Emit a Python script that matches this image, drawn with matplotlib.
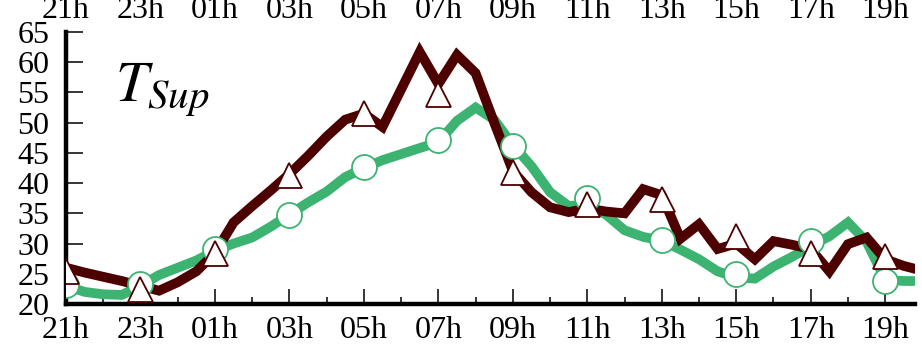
import matplotlib
matplotlib.use("Agg")
import matplotlib.pyplot as plt
from matplotlib.ticker import MultipleLocator, FixedLocator
import numpy as np

plt.rcParams["font.family"] = ["Liberation Serif", "DejaVu Serif"]
plt.rcParams["mathtext.fontset"] = "stix"

# half-hourly series, hours counted from 21h
hours = np.arange(0, 23.5, 0.5)
t_measured = [26.0, 25.2, 24.5, 23.8, 23.0, 22.2, 23.6, 25.4, 28.4, 33.5,
              36.2, 38.8, 41.5, 44.5, 47.7, 50.5, 51.5, 49.3, 55.5, 61.7,
              56.4, 61.2, 58.2, 50.0, 42.0, 38.5, 36.0, 35.2, 35.8, 35.3,
              35.0, 39.0, 38.0, 30.8, 33.2, 29.1, 30.0, 27.4, 30.4, 29.8,
              29.1, 25.4, 29.9, 31.0, 27.4, 26.3, 25.5]
t_model = [23.0, 22.0, 21.6, 21.5, 23.0, 24.8, 26.0, 27.2, 28.8, 30.0,
           31.0, 32.8, 34.8, 36.8, 38.6, 41.0, 42.5, 43.8, 44.8, 45.8,
           46.8, 50.3, 52.5, 50.5, 46.3, 42.8, 38.5, 36.2, 36.5, 34.8,
           32.2, 31.1, 30.5, 29.0, 27.4, 25.4, 24.4, 24.2, 26.2, 27.8,
           29.6, 31.2, 33.5, 30.3, 24.0, 23.8, 23.8]

# two-hourly marker values
mark_hours = np.arange(0, 23, 2)
tri_vals = [25.4, 22.5, 28.4, 41.4, 51.6, 54.8, 41.8, 36.6, 37.3, 31.2, 28.4, 27.9]
circ_vals = [23.2, 23.3, 29.1, 34.8, 42.7, 47.1, 46.1, 37.6, 30.6, 24.9, 30.4, 23.8]

tick_labels = ["21h", "23h", "01h", "03h", "05h", "07h",
               "09h", "11h", "13h", "15h", "17h", "19h"]

maroon = "#4d0000"
green = "#3cb371"

fig = plt.figure(figsize=(9.22, 3.6), dpi=100)
ax = fig.add_axes([0.0716, 0.1556, 0.9208, 0.7555])

ax.plot(hours, t_model, color=green, lw=7, solid_joinstyle="miter", zorder=2)
ax.plot(hours, t_measured, color=maroon, lw=7, solid_joinstyle="miter", zorder=3)
ax.plot(mark_hours, circ_vals, ls="none", marker="o", ms=18, mfc="white",
        mec=green, mew=1.3, zorder=4)
ax.plot(mark_hours, tri_vals, ls="none", marker="^", ms=18, mfc="white",
        mec=maroon, mew=1.3, zorder=5)

ax.text(1.32, 53.5, r"$T_{Sup}$", fontsize=42, va="baseline", ha="left")

ax.set_xlim(0, 22.8)
ax.set_ylim(20, 65)

ax.xaxis.set_major_locator(FixedLocator(mark_hours))
ax.xaxis.set_minor_locator(MultipleLocator(1))
ax.set_xticklabels(tick_labels)
ax.yaxis.set_major_locator(MultipleLocator(5))

for side in ("top", "right"):
    ax.spines[side].set_visible(False)
for side in ("left", "bottom"):
    ax.spines[side].set_linewidth(3.2)

ax.tick_params(axis="x", which="major", direction="in", length=11, width=1.1,
               labelsize=23, pad=9, top=False)
ax.tick_params(axis="x", which="minor", direction="in", length=5, width=1.1, top=False)
ax.tick_params(axis="y", which="major", direction="in", length=12, width=1.1,
               labelsize=23, pad=12)

# same hour labels repeated along the top edge
top = ax.secondary_xaxis("top")
top.set_xticks(mark_hours)
top.set_xticklabels(tick_labels)
top.spines["top"].set_visible(False)
top.tick_params(axis="x", which="both", length=0, labelsize=23, pad=5)

fig.savefig("out.png", dpi=100)
